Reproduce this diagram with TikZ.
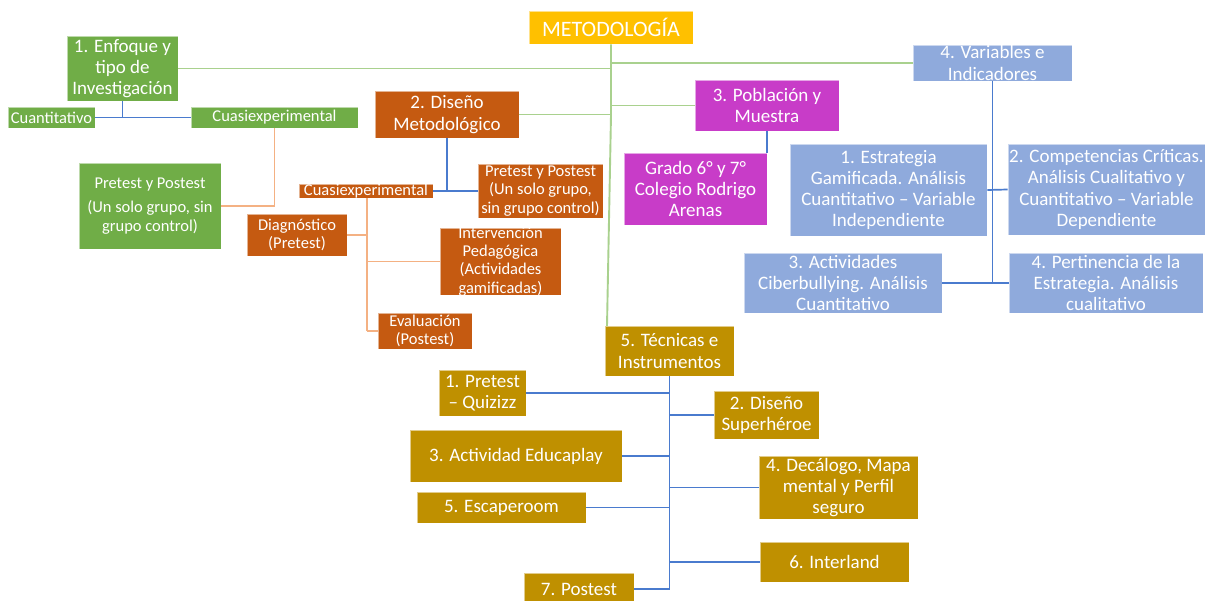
\documentclass[tikz,border=0pt]{standalone}
\usepackage{fontspec}
\setmainfont{Carlito}
\definecolor{cGold}{HTML}{FFC000}
\definecolor{cGreen}{HTML}{70AD47}
\definecolor{cOrange}{HTML}{C55A11}
\definecolor{cMag}{HTML}{C83CC8}
\definecolor{cBlue}{HTML}{8FAADC}
\definecolor{cDGold}{HTML}{BF9000}
\definecolor{lGreen}{HTML}{A9D18E}
\definecolor{lOrange}{HTML}{F4B183}
\definecolor{lBlue}{HTML}{4A7BCE}
\tikzset{
  shp/.style={inner sep=0pt, draw=white, draw opacity=0.55, line width=0.9pt},
  txt/.style={inner sep=0pt, align=center, text=white},
  fbig/.style={font=\fontsize{19}{21.3}\selectfont},
  fsml/.style={font=\fontsize{16.5}{18.3}\selectfont},
  fttl/.style={font=\fontsize{22}{24}\selectfont},
  gline/.style={draw=lGreen, line width=1.9pt},
  oline/.style={draw=lOrange, line width=1.9pt},
  bline/.style={draw=lBlue, line width=1.7pt},
}
\newcommand\bx[8]{%
  \node[shp, fill=#6, minimum width=#4pt, minimum height=#5pt] (#1) at (#2,#3) {};
  \node[txt, #7] (#1-t) at (#1.center) {#8};
}
\begin{document}
\begin{tikzpicture}[x=1pt,y=-1pt]
\useasboundingbox (0,0) rectangle (1208,600);
\fill[white] (0,0) rectangle (1208,600);

\coordinate (mj) at (611,115);
\coordinate (mend) at (607,326);

% nodes
\bx{meto}{611}{27.5}{164}{33}{cGold}{fttl}{METODOLOGÍA}
\bx{enf}{122.5}{68.5}{111}{65}{cGreen}{fbig}{1. Enfoque y\\tipo de\\Investigación}
\bx{cuant}{51.5}{117.5}{87}{21}{cGreen}{fsml}{Cuantitativo}
\bx{cuasig}{274.5}{117.5}{167}{21}{cGreen}{fsml}{Cuasiexperimental}
\bx{pretg}{150}{206}{142}{86}{cGreen}{fsml}{Pretest y Postest\\[6pt](Un solo grupo, sin\\grupo control)}
\bx{dis}{447}{114.5}{144}{47}{cOrange}{fbig}{2. Diseño\\Metodológico}
\bx{cuaso}{366}{191}{134}{14}{cOrange}{fsml}{Cuasiexperimental}
\bx{preto}{540.5}{191}{125}{54}{cOrange}{fsml}{Pretest y Postest\\(Un solo grupo,\\sin grupo control)}
\bx{diag}{297}{235}{100}{42}{cOrange}{fsml}{Diagnóstico\\(Pretest)}
\bx{interv}{500.5}{261.5}{121}{67}{cOrange}{fsml}{Intervención\\Pedagógica\\(Actividades\\gamificadas)}
\bx{eval}{425}{331}{94}{36}{cOrange}{fsml}{Evaluación\\(Postest)}
\bx{pob}{767}{105.5}{144}{51}{cMag}{fbig}{3. Población y\\Muestra}
\bx{grado}{695.5}{189}{143}{72}{cMag}{fbig}{Grado 6° y 7°\\Colegio Rodrigo\\Arenas}
\bx{var}{992.5}{63}{159}{36}{cBlue}{fbig}{4. Variables e\\Indicadores}
\bx{est}{888.5}{190}{197}{92}{cBlue}{fbig}{1. Estrategia\\Gamificada. Análisis\\Cuantitativo – Variable\\Independiente}
\bx{comp}{1106.5}{189.5}{197}{91}{cBlue}{fbig}{2. Competencias Críticas.\\Análisis Cualitativo y\\Cuantitativo – Variable\\Dependiente}
\bx{act}{843}{283}{198}{60}{cBlue}{fbig}{3. Actividades\\Ciberbullying. Análisis\\Cuantitativo}
\bx{pert}{1106}{283}{194}{60}{cBlue}{fbig}{4. Pertinencia de la\\Estrategia. Análisis\\cualitativo}
\bx{tec}{669.5}{351}{129}{50}{cDGold}{fbig}{5. Técnicas e\\Instrumentos}
\bx{ta}{482.5}{393}{87}{46}{cDGold}{fbig}{1. Pretest\\– Quizizz}
\bx{tb}{766.5}{415}{105}{48}{cDGold}{fbig}{2. Diseño\\Superhéroe}
\bx{tc}{516}{456}{212}{52}{cDGold}{fbig}{3. Actividad Educaplay}
\bx{td}{838.5}{487.5}{159}{63}{cDGold}{fbig}{4. Decálogo, Mapa\\mental y Perfil\\seguro}
\bx{te}{501.5}{507.5}{169}{31}{cDGold}{fbig}{5. Escaperoom}
\bx{tf}{834.5}{562}{149}{40}{cDGold}{fbig}{6. Interland}
\bx{tg}{579}{589}{110}{32}{cDGold}{fbig}{7. Postest}

% connectors
\draw[gline] (meto.south) -- (mj) -- (mend);
\draw[gline] (enf.east) -- (enf.east -| meto.south);
\draw[gline] (dis.east) -- (dis.east -| meto.south);
\draw[gline] (var.west) -- (var.west -| meto.south);
\draw[gline] (pob.west) -- (pob.west -| meto.south);

\draw[bline] (enf.south) -- (enf.south |- cuant.east);
\draw[bline] (cuant.east) -- (cuasig.west);
\draw[oline] (cuasig.south) -- (cuasig.south |- pretg.east) -- (pretg.east);

\draw[bline] (dis.south) -- (dis.south |- cuaso.east);
\draw[bline] (cuaso.east) -- (preto.west);
\coordinate (oj) at (367,331);
\draw[oline] (cuaso.south -| oj) -- (oj);
\draw[oline] (diag.east) -- (diag.east -| oj);
\draw[oline] (interv.west) -- (interv.west -| oj);
\draw[oline] (eval.west) -- (oj);

\draw[bline] (pob.south) -- (pob.south |- grado.north);

\coordinate (vj) at (992.5,283);
\draw[bline] (var.south) -- (vj);
\draw[bline] (est.east) -- (comp.west);
\draw[bline] (act.east) -- (pert.west);

\coordinate (tj) at (669.5,589);
\draw[bline] (tec.south) -- (tj);
\draw[bline] (ta.east) -- (ta.east -| tj);
\draw[bline] (tb.west) -- (tb.west -| tj);
\draw[bline] (tc.east) -- (tc.east -| tj);
\draw[bline] (td.west) -- (td.west -| tj);
\draw[bline] (te.east) -- (te.east -| tj);
\draw[bline] (tf.west) -- (tf.west -| tj);
\draw[bline] (tg.east) -- (tj);
\end{tikzpicture}
\end{document}
